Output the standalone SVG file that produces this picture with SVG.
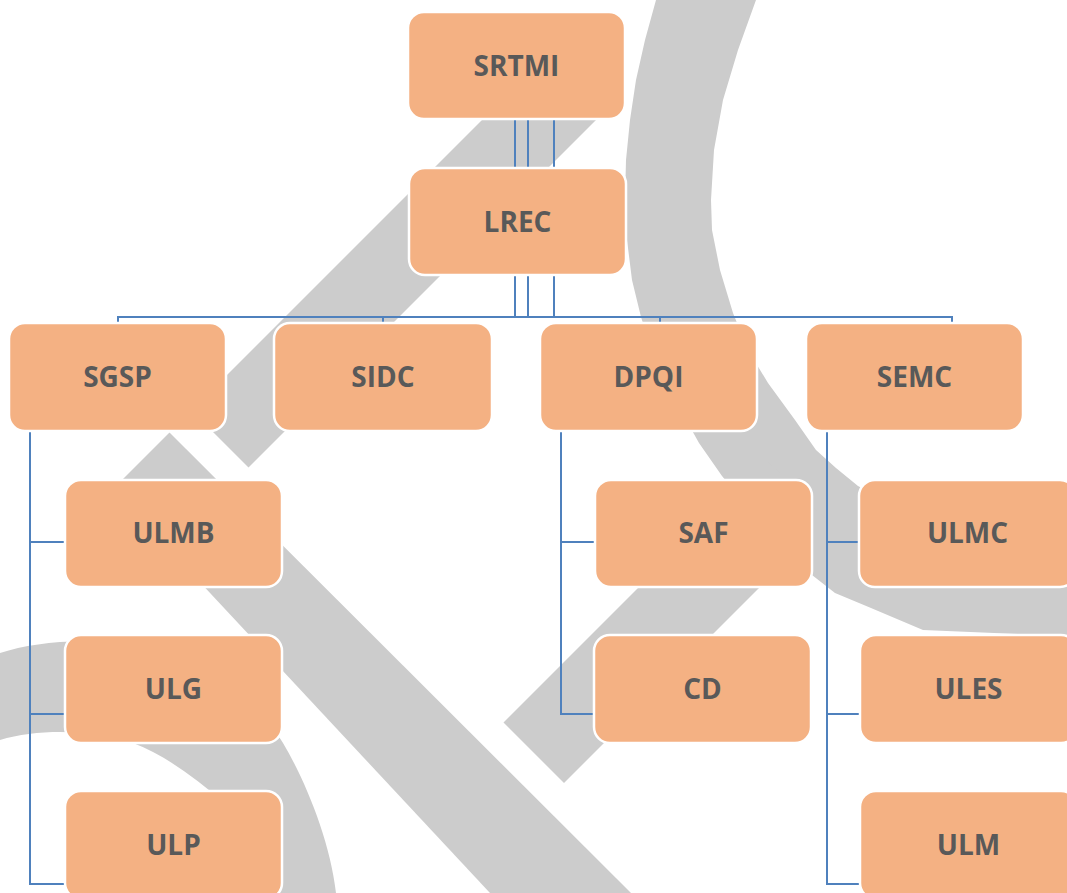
<svg xmlns="http://www.w3.org/2000/svg" width="1067" height="893" viewBox="0 0 1067 893">
  <style>
    .wm { fill: #cccccc; stroke: none; }
    .box { fill: #f4b183; stroke: #ffffff; stroke-width: 2.5; }
    .lbl { font-family: "Open Sans", "Liberation Sans", sans-serif; font-weight: 700; font-size: 28px; fill: #595959; text-anchor: middle; }
    .con { fill: none; stroke: #4f81bd; stroke-width: 2; }
  </style>
  <rect x="0" y="0" width="1067" height="893" fill="#ffffff"/>
  <g id="watermark">
    <polygon class="wm" points="656,0 645,40 636,80 630,120 626,160 625,200 627,240 632,280 641,317 655,360 675,400 699,443 722,476 750,510 780,545 812,575 835,593 871,608 923,630 1067,636 1067,545 960,525 900,508 858,486 836,468 816,450 795,420 768,383 748,350 733,313 720,270 712,230 711,200 714,150 723,100 738,50 756,0"/>
    <polygon class="wm" points="502,100 616,100 248.5,467.5 191.5,410.5"/>
    <polygon class="wm" points="169.5,432.5 631,893 490,893 113,489"/>
    <polygon class="wm" points="503.5,722.5 564,783 827,520 766,460"/>
    <path class="wm" d="M0,653 C40,640 100,636 160,650 C210,665 260,705 283,743 C305,780 330,840 336,893 L275,893 C268,860 255,830 225,803 C195,778 165,755 133,743 C95,730 40,728 0,740 Z"/>
  </g>
  <g id="connectors">
    <path class="con" d="M515,120 V167 M528,120 V167 M554,120 V167"/>
    <path class="con" d="M515,276 V317 M528,276 V317 M554,276 V317"/>
    <path class="con" d="M118,322 V317 H952 V322 M383,317 V322 M660,317 V322"/>
    <path class="con" d="M30,432 V884 H65 M30,542 H65 M30,714 H65"/>
    <path class="con" d="M561,432 V714 H594 M561,542 H595"/>
    <path class="con" d="M827,432 V884 H860 M827,542 H859 M827,714 H860"/>
  </g>
  <g id="SRTMI"><rect class="box" x="408" y="12" width="217" height="107" rx="16"/><text class="lbl" x="516.5" y="75.5">SRTMI</text></g>
  <g id="LREC"><rect class="box" x="409" y="168" width="217" height="107" rx="16"/><text class="lbl" x="517.5" y="231.5">LREC</text></g>
  <g id="SGSP"><rect class="box" x="9" y="323" width="217" height="108" rx="16"/><text class="lbl" x="117.5" y="387">SGSP</text></g>
  <g id="SIDC"><rect class="box" x="274" y="323" width="218" height="108" rx="16"/><text class="lbl" x="383" y="387">SIDC</text></g>
  <g id="DPQI"><rect class="box" x="540" y="323" width="217" height="108" rx="16"/><text class="lbl" x="648.5" y="387">DPQI</text></g>
  <g id="SEMC"><rect class="box" x="806" y="323" width="217" height="108" rx="16"/><text class="lbl" x="914.5" y="387">SEMC</text></g>
  <g id="ULMB"><rect class="box" x="65" y="480" width="217" height="107" rx="16"/><text class="lbl" x="173.5" y="543">ULMB</text></g>
  <g id="ULG"><rect class="box" x="65" y="635" width="217" height="108" rx="16"/><text class="lbl" x="173.5" y="699">ULG</text></g>
  <g id="ULP"><rect class="box" x="65" y="791" width="217" height="108" rx="16"/><text class="lbl" x="173.5" y="855">ULP</text></g>
  <g id="SAF"><rect class="box" x="595" y="480" width="217" height="107" rx="16"/><text class="lbl" x="703.5" y="543">SAF</text></g>
  <g id="CD"><rect class="box" x="594" y="635" width="217" height="108" rx="16"/><text class="lbl" x="702.5" y="699">CD</text></g>
  <g id="ULMC"><rect class="box" x="859" y="480" width="217" height="107" rx="16"/><text class="lbl" x="967.5" y="543">ULMC</text></g>
  <g id="ULES"><rect class="box" x="860" y="635" width="217" height="108" rx="16"/><text class="lbl" x="968.5" y="699">ULES</text></g>
  <g id="ULM"><rect class="box" x="860" y="791" width="217" height="108" rx="16"/><text class="lbl" x="968.5" y="855">ULM</text></g>
</svg>
